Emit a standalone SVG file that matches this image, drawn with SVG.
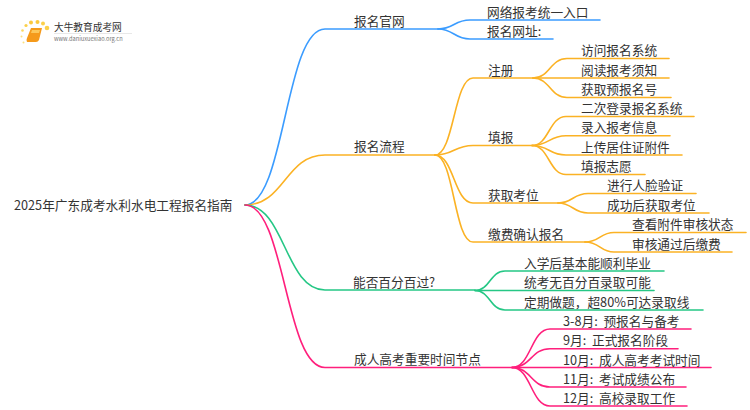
<svg xmlns="http://www.w3.org/2000/svg" width="750" height="410" viewBox="0 0 750 410">
<style>
text{font-family:"Noto Sans CJK SC","Noto Sans",sans-serif;font-size:12.7px;fill:#333}
#connectors path{fill:none;stroke-width:1.6;stroke-linecap:round}
.b{stroke:#3b9cff}.o{stroke:#fbb224}.g{stroke:#25c785}.p{stroke:#ff1f7c}
</style>
<rect width="750" height="410" fill="#fff"/>
<g id="logo">
<circle cx="47" cy="28" r="2.300" fill="#fbd04a"/><circle cx="43" cy="23.500" r="2" fill="#fbd04a"/><circle cx="37.500" cy="22" r="2" fill="#fbc93f"/><circle cx="31" cy="22.500" r="2" fill="#fbc93f"/><circle cx="26" cy="25.500" r="1.600" fill="#fbd04a"/><circle cx="22.500" cy="30.500" r="1.300" fill="#fbd860"/><circle cx="21.500" cy="36.500" r="1" fill="#fbe080"/><circle cx="23.500" cy="42.500" r="1" fill="#fbe080"/>
<path d="M31 28H42L39 40Q38 42 36 42H27Q26 40 27 38Z" fill="#f59a1b"/>
<path d="M32 30H40L39 33H31Z" fill="#fcc75a"/>
<text x="54" y="31" style="font-size:9.700px">大牛教育成考网</text>
<path d="M54 33.500H132" stroke="#e8e8e8" stroke-width="1"/>
<text x="54" y="41" style="font-size:5.700px;fill:#777">www.daniuxuexiao.org.cn</text>
</g>
<g id="connectors">
<path class="b" d="M245 205C285 205 285 29 325 29H438"/>
<path class="b" d="M438 29C454 29 454 20 470 20H600"/>
<path class="b" d="M438 29C454 29 454 39 470 39H553"/>
<path class="o" d="M245 205C285 205 285 155 325 155H435"/>
<path class="o" d="M435 155C454 155 454 78 473 78H533"/>
<path class="o" d="M435 155C454 155 454 145.500 473 145.500H532"/>
<path class="o" d="M435 155C454 155 454 203 473 203H558"/>
<path class="o" d="M435 155C454 155 454 242 473 242H585"/>
<path class="o" d="M533 78C550 78 550 58.500 567 58.500H669"/>
<path class="o" d="M533 78H669"/>
<path class="o" d="M533 78C550 78 550 97.500 567 97.500H671"/>
<path class="o" d="M532 145.500C549 145.500 549 116.500 566 116.500H694"/>
<path class="o" d="M532 145.500C549 145.500 549 135.800 566 135.800H670"/>
<path class="o" d="M532 145.500C549 145.500 549 155 566 155H682"/>
<path class="o" d="M532 145.500C549 145.500 549 174.500 566 174.500H645"/>
<path class="o" d="M558 203C573 203 573 193.500 588 193.500H696"/>
<path class="o" d="M558 203C573 203 573 213 588 213H709"/>
<path class="o" d="M585 242C600 242 600 232.500 614 232.500H746"/>
<path class="o" d="M585 242C600 242 600 252 614 252H732"/>
<path class="g" d="M245 205C285 205 285 290 325 290H475"/>
<path class="g" d="M475 290.500C490 290.500 490 271 505 271H664"/>
<path class="g" d="M475 290.500H654"/>
<path class="g" d="M475 290.500C490 290.500 490 310 505 310H703"/>
<path class="p" d="M245 205C285 205 285 367.500 325 367.500H512"/>
<path class="p" d="M512 367.500C531 367.500 531 329 550 329H691"/>
<path class="p" d="M512 367.500C531 367.500 531 348.700 550 348.700H678"/>
<path class="p" d="M512 367.500H711"/>
<path class="p" d="M512 367.500C531 367.500 531 387 550 387H686"/>
<path class="p" d="M512 367.500C531 367.500 531 406 550 406H687"/>
</g>
<g id="root"><text x="14" y="210">2025年广东成考水利水电工程报名指南</text></g>
<g id="n1"><text x="354" y="26">报名官网</text></g>
<g id="n2"><text x="487" y="17">网络报考统一入口</text></g>
<g id="n3"><text x="487" y="36">报名网址:</text></g>
<g id="n4"><text x="354" y="151">报名流程</text></g>
<g id="n5"><text x="488" y="75">注册</text></g>
<g id="n6"><text x="581" y="55">访问报名系统</text></g>
<g id="n7"><text x="581" y="75">阅读报考须知</text></g>
<g id="n8"><text x="581" y="94">获取预报名号</text></g>
<g id="n9"><text x="488" y="142">填报</text></g>
<g id="n10"><text x="581" y="113">二次登录报名系统</text></g>
<g id="n11"><text x="581" y="132">录入报考信息</text></g>
<g id="n12"><text x="581" y="152">上传居住证附件</text></g>
<g id="n13"><text x="581" y="171">填报志愿</text></g>
<g id="n14"><text x="488" y="200">获取考位</text></g>
<g id="n15"><text x="607" y="190">进行人脸验证</text></g>
<g id="n16"><text x="607" y="210">成功后获取考位</text></g>
<g id="n17"><text x="488" y="239">缴费确认报名</text></g>
<g id="n18"><text x="632" y="229">查看附件审核状态</text></g>
<g id="n19"><text x="632" y="249">审核通过后缴费</text></g>
<g id="n20"><text x="353" y="287">能否百分百过?</text></g>
<g id="n21"><text x="524" y="268">入学后基本能顺利毕业</text></g>
<g id="n22"><text x="524" y="287">统考无百分百录取可能</text></g>
<g id="n23"><text x="524" y="307">定期做题，超80%可达录取线</text></g>
<g id="n24"><text x="354" y="364">成人高考重要时间节点</text></g>
<g id="n25"><text x="563" y="326" xml:space="preserve">3-8月:  预报名与备考</text></g>
<g id="n26"><text x="563" y="345" xml:space="preserve">9月:  正式报名阶段</text></g>
<g id="n27"><text x="563" y="365" xml:space="preserve">10月:  成人高考考试时间</text></g>
<g id="n28"><text x="563" y="384" xml:space="preserve">11月:  考试成绩公布</text></g>
<g id="n29"><text x="563" y="403" xml:space="preserve">12月:  高校录取工作</text></g>
</svg>
